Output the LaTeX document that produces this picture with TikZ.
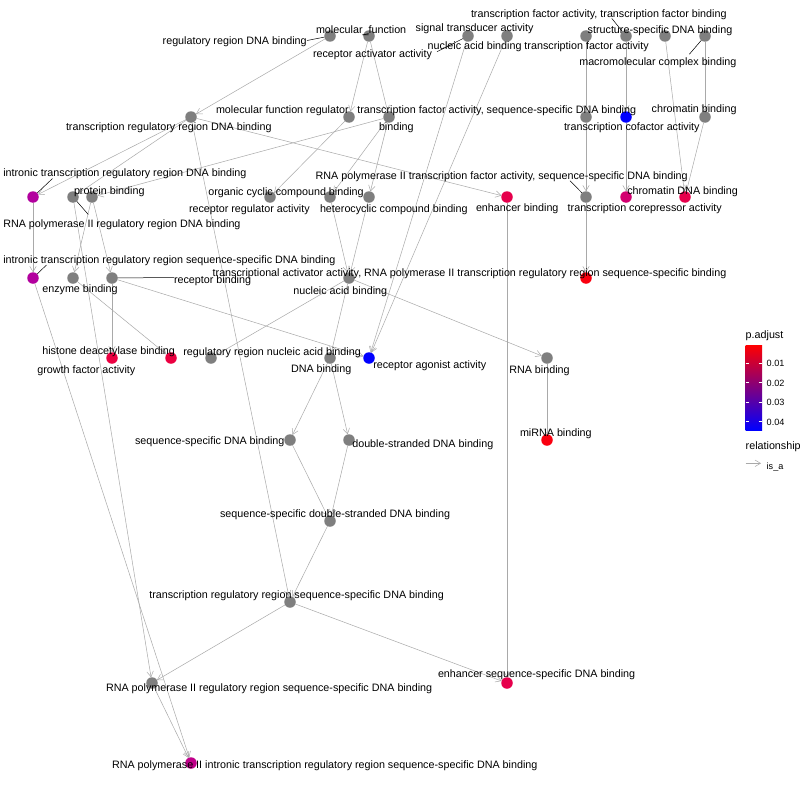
\documentclass[tikz,border=0pt]{standalone}
\usepackage{fontspec}
\setmainfont{Liberation Sans}
\usetikzlibrary{arrows.meta}
\definecolor{gn}{HTML}{7F7F7F}
\definecolor{edgegray}{HTML}{A9A9A9}
\definecolor{cblue}{HTML}{0000FF}
\definecolor{cmagA}{HTML}{B2009E}
\definecolor{cmagB}{HTML}{C0008A}
\definecolor{cmagC}{HTML}{D30070}
\definecolor{cpinkA}{HTML}{E6004C}
\definecolor{cpinkB}{HTML}{EB0041}
\definecolor{cred}{HTML}{FA000F}
\definecolor{cmid}{HTML}{C4008A}
\pgfdeclarelayer{bg}
\pgfsetlayers{bg,main}
\begin{document}
\begin{tikzpicture}[x=1pt,y=-1pt,
  every node/.style={inner sep=0pt,outer sep=0pt},
  go/.style={circle,minimum size=11.5pt,fill=#1},
  lbl/.style={anchor=base west,font=\fontsize{10.75}{12}\selectfont,text=black},
  small/.style={anchor=base west,font=\fontsize{9.1}{10}\selectfont,text=black},
  edge/.style={draw=edgegray,line width=0.5pt,-{Straight Barb[length=5.5pt,width=6.5pt]}},
  leader/.style={draw=black,line width=0.5pt}]
\useasboundingbox (0,0) rectangle (800,800);

% ---- GO nodes ----
\node[go=gn] (n1) at (330,36) {};
\node[go=gn] (n2) at (369,36) {};
\node[go=gn] (n3) at (468,36) {};
\node[go=gn] (n4) at (507,36) {};
\node[go=gn] (n5) at (586,36) {};
\node[go=gn] (n6) at (626,36) {};
\node[go=gn] (n7) at (665,36) {};
\node[go=gn] (n8) at (705,36) {};
\node[go=gn] (n9) at (191,117) {};
\node[go=gn] (n10) at (349,117) {};
\node[go=gn] (n11) at (389,117) {};
\node[go=gn] (n12) at (586,117) {};
\node[go=cblue] (n13) at (626,117) {};
\node[go=gn] (n14) at (705,117) {};
\node[go=cmagA] (n15) at (33,197) {};
\node[go=gn] (n16) at (73,197) {};
\node[go=gn] (n17) at (92,197) {};
\node[go=gn] (n18) at (270,197) {};
\node[go=gn] (n19) at (330,197) {};
\node[go=gn] (n20) at (369,197) {};
\node[go=cpinkA] (n21) at (507,197) {};
\node[go=gn] (n22) at (586,197) {};
\node[go=cmagC] (n23) at (626,197) {};
\node[go=cpinkA] (n24) at (685,197) {};
\node[go=cmagA] (n25) at (33,278) {};
\node[go=gn] (n26) at (73,278) {};
\node[go=gn] (n27) at (112,278) {};
\node[go=gn] (n28) at (349,278) {};
\node[go=cred] (n29) at (586,278) {};
\node[go=cpinkB] (n30) at (112,358) {};
\node[go=cpinkB] (n31) at (171,358) {};
\node[go=gn] (n32) at (211,358) {};
\node[go=gn] (n33) at (330,358) {};
\node[go=cblue] (n34) at (369,358) {};
\node[go=gn] (n35) at (547,358) {};
\node[go=gn] (n36) at (290,440) {};
\node[go=gn] (n37) at (349,440) {};
\node[go=cred] (n38) at (547,440) {};
\node[go=gn] (n39) at (330,521) {};
\node[go=gn] (n40) at (290,602) {};
\node[go=gn] (n41) at (152,683) {};
\node[go=cpinkA] (n42) at (507,683) {};
\node[go=cmagB] (n43) at (191,763) {};

% ---- background and edges ----
\begin{pgfonlayer}{bg}
\fill[white] (0,0) rectangle (800,800);
\draw[edge] (n1) -- (n9);
\draw[edge] (n2) -- (n10);
\draw[edge] (n2) -- (n11);
\draw[edge] (n3) -- (n34);
\draw[edge] (n4) -- (n34);
\draw[edge] (n5) -- (n12);
\draw[edge] (n6) -- (n13);
\draw[edge] (n7) -- (n24);
\draw[edge] (n8) -- (n14);
\draw[edge] (n14) -- (n24);
\draw[edge] (n12) -- (n22);
\draw[edge] (n13) -- (n23);
\draw[edge] (n22) -- (n29);
\draw[edge] (n9) -- (n15);
\draw[edge] (n9) -- (n16);
\draw[edge] (n9) -- (n21);
\draw[edge] (n9) -- (n40);
\draw[edge] (n11) -- (n17);
\draw[edge] (n11) -- (n19);
\draw[edge] (n11) -- (n20);
\draw[edge] (n10) -- (n18);
\draw[edge] (n15) -- (n25);
\draw[edge] (n17) -- (n26);
\draw[edge] (n17) -- (n27);
\draw[edge] (n19) -- (n28);
\draw[edge] (n20) -- (n28);
\draw[edge] (n26) -- (n31);
\draw[edge] (n27) -- (n30);
\draw[edge] (n27) -- (n34);
\draw[edge] (n28) -- (n32);
\draw[edge] (n28) -- (n33);
\draw[edge] (n28) -- (n35);
\draw[edge] (n35) -- (n38);
\draw[edge] (n33) -- (n36);
\draw[edge] (n33) -- (n37);
\draw[edge] (n36) -- (n39);
\draw[edge] (n37) -- (n39);
\draw[edge] (n39) -- (n40);
\draw[edge] (n40) -- (n41);
\draw[edge] (n40) -- (n42);
\draw[edge] (n21) -- (n42);
\draw[edge] (n16) -- (n41);
\draw[edge] (n25) -- (n43);
\draw[edge] (n41) -- (n43);
\end{pgfonlayer}

% ---- labels ----
\node[lbl] (l1) at (162.7,44.6) {regulatory region DNA binding};
\node[lbl] (l2) at (316,33.2) {molecular\_function};
\node[lbl] (l3) at (313,57.2) {receptor activator activity};
\node[lbl] (l4) at (415.7,31.2) {signal transducer activity};
\node[lbl] (l5) at (427.7,49.9) {nucleic acid binding transcription factor activity};
\node[lbl] (l6) at (471,17.2) {transcription factor activity, transcription factor binding};
\node[lbl] (l7) at (587.7,33.2) {structure-specific DNA binding};
\node[lbl] (l8) at (579.3,65.9) {macromolecular complex binding};
\node[lbl] (l9) at (66,130.4) {transcription regulatory region DNA binding};
\node[lbl] (l10) at (216,113.9) {molecular function regulator};
\node[lbl] (l11) at (357.3,113.9) {transcription factor activity, sequence-specific DNA binding};
\node[lbl] (l12) at (379,130.6) {binding};
\node[lbl] (l13) at (651.7,112.9) {chromatin binding};
\node[lbl] (l14) at (564,130.9) {transcription cofactor activity};
\node[lbl] (l15) at (3.3,176.2) {intronic transcription regulatory region DNA binding};
\node[lbl] (l16) at (74,194.6) {protein binding};
\node[lbl] (l17) at (208.3,195.6) {organic cyclic compound binding};
\node[lbl] (l18) at (189,212.6) {receptor regulator activity};
\node[lbl] (l19) at (320,212.2) {heterocyclic compound binding};
\node[lbl] (l20) at (3.3,227.2) {RNA polymerase II regulatory region DNA binding};
\node[lbl] (l21) at (315.7,179.9) {RNA polymerase II transcription factor activity, sequence-specific DNA binding};
\node[lbl] (l22) at (476,211.6) {enhancer binding};
\node[lbl] (l23) at (567.7,211.6) {transcription corepressor activity};
\node[lbl] (l24) at (627.3,194.6) {chromatin DNA binding};
\node[lbl] (l25) at (3.3,263.9) {intronic transcription regulatory region sequence-specific DNA binding};
\node[lbl] (l26) at (42.3,292.2) {enzyme binding};
\node[lbl] (l27) at (174,283.2) {receptor binding};
\node[lbl] (l28) at (212.7,276.4) {transcriptional activator activity, RNA polymerase II transcription regulatory region sequence-specific binding};
\node[lbl] (l29) at (293.3,294.9) {nucleic acid binding};
\node[lbl] (l30) at (42.3,354.6) {histone deacetylase binding};
\node[lbl] (l31) at (37.3,373.2) {growth factor activity};
\node[lbl] (l32) at (183.3,355.6) {regulatory region nucleic acid binding};
\node[lbl] (l33) at (291,372.9) {DNA binding};
\node[lbl] (l34) at (373.3,368.2) {receptor agonist activity};
\node[lbl] (l35) at (509.3,373.2) {RNA binding};
\node[lbl] (l36) at (135,444.6) {sequence-specific DNA binding};
\node[lbl] (l37) at (352.3,447.2) {double-stranded DNA binding};
\node[lbl] (l38) at (520,436.2) {miRNA binding};
\node[lbl] (l39) at (220,517.2) {sequence-specific double-stranded DNA binding};
\node[lbl] (l40) at (149.3,598.9) {transcription regulatory region sequence-specific DNA binding};
\node[lbl] (l41) at (106,691.9) {RNA polymerase II regulatory region sequence-specific DNA binding};
\node[lbl] (l42) at (438,677.9) {enhancer sequence-specific DNA binding};
\node[lbl] (l43) at (112,768.9) {RNA polymerase II intronic transcription regulatory region sequence-specific DNA binding};

% ---- label leader lines ----
\coordinate (s1) at (307,40.5);
\coordinate (s2) at (363,35);
\coordinate (s3) at (437,51.7);
\coordinate (s6) at (611.7,18.3);
\coordinate (s8) at (689.3,54.3);
\coordinate (s15) at (52.5,178.5);
\coordinate (s20) at (88.3,214.5);
\coordinate (s25) at (46.5,265);
\coordinate (s27) at (174,277.5);
\coordinate (s21) at (570,180.7);
\draw[leader] (s1) -- (n1);
\draw[leader] (s2) -- ++(5.5,-1.5);
\draw[leader] (s3) -- (n3);
\draw[leader] (s6) -- (n6);
\draw[leader] (s8) -- (n8);
\draw[leader] (s15) -- (n15);
\draw[leader] (s20) -- (n16);
\draw[leader] (s25) -- (n25);
\draw[leader] (s27) -- (n27);
\draw[leader] (s21) -- (n22);

% ---- legend ----
\node[lbl] (lgt) at (745.7,338.9) {p.adjust};
\shade[top color=red,middle color=cmid,bottom color=blue] (745.7,345) rectangle (762,430);
\foreach \yy in {363.3,382.7,402.3,421.7}{
  \draw[white,line width=0.6pt] (745.7,\yy) -- (749.2,\yy) (758.5,\yy) -- (762,\yy);
}
\node[small] (t1) at (766.7,366.6) {0.01};
\node[small] (t2) at (766.7,386) {0.02};
\node[small] (t3) at (766.7,405.6) {0.03};
\node[small] (t4) at (766.7,425) {0.04};
\node[lbl] (lgr) at (745.7,449.6) {relationship};
\coordinate (k1) at (745.7,463.3);
\coordinate (k2) at (761,463.3);
\draw[edge] (k1) -- (k2);
\node[small] (isa) at (766.7,469) {is\_a};
\end{tikzpicture}
\end{document}
